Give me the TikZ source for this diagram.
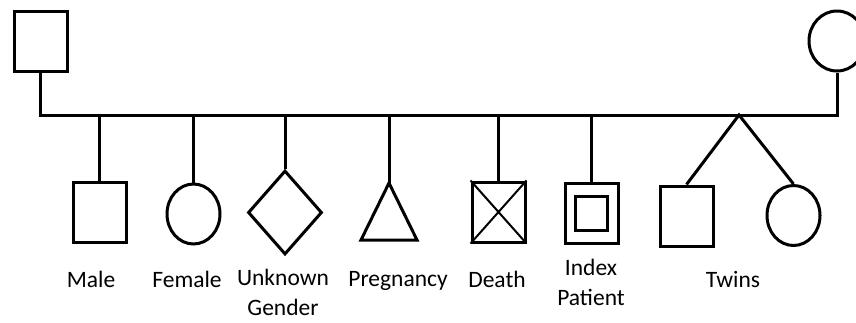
\documentclass[tikz,border=0pt]{standalone}
\usepackage{fontspec}
\setmainfont{Carlito}
\usetikzlibrary{shapes.geometric}
\begin{document}
\begin{tikzpicture}[x=1pt,y=-1pt,line width=3pt,line join=miter,
    sq/.style={draw,rectangle,minimum width=53pt,minimum height=60pt,inner sep=0pt},
    ci/.style={draw,ellipse,minimum width=53pt,minimum height=60pt,inner sep=0pt},
    lbl/.style={font=\fontsize{23.5}{30}\selectfont,align=center,inner sep=0pt,anchor=base}]
    \useasboundingbox (0,0) rectangle (856,322);
    % parents
    \node[sq](fa) at (40.5,41) {};
    \node[ci,minimum width=56pt](mo) at (837,41) {};
    \coordinate (bar) at (837,115);
    \draw (fa.south) |- (bar) -- (mo.south);
    % children
    \node[sq](male) at (99.5,212) {};
    \node[ci](fem) at (193.5,214) {};
    \node[draw,diamond,minimum width=74pt,minimum height=84pt,inner sep=0pt](unk) at (285,212.5) {};
    \coordinate (preg) at (389,183);
    \draw (preg) -- (417,240) -- (361,240) -- cycle;
    \node[sq](dea) at (498.5,212) {};
    \draw[line width=2pt] (dea.north west)--(dea.south east) (dea.north east)--(dea.south west);
    \node[sq](idx) at (591.5,213.5) {};
    \node[sq,minimum width=32pt,minimum height=34pt] at (idx) {};
    \node[sq](tm) at (686.5,216) {};
    \node[ci](tf) at (793.5,215.5) {};
    \coordinate (tw) at (739,115);
    \foreach \c in {male,fem,unk,dea,idx}
        \draw (\c.north) -- (\c.north |- bar);
    \draw (preg) -- (preg |- bar);
    \draw (tm.north) -- (tw) -- (tf.north);
    % labels
    \node[lbl](a) at (91,287) {Male};
    \node[lbl](b) at (187,287) {Female};
    \node[lbl](c) at (283,315) {Unknown\\Gender};
    \node[lbl](d) at (398,286) {Pregnancy};
    \node[lbl](e) at (497,287) {Death};
    \node[lbl](f) at (591,305) {Index\\Patient};
    \node[lbl](g) at (733,287) {Twins};
\end{tikzpicture}
\end{document}
